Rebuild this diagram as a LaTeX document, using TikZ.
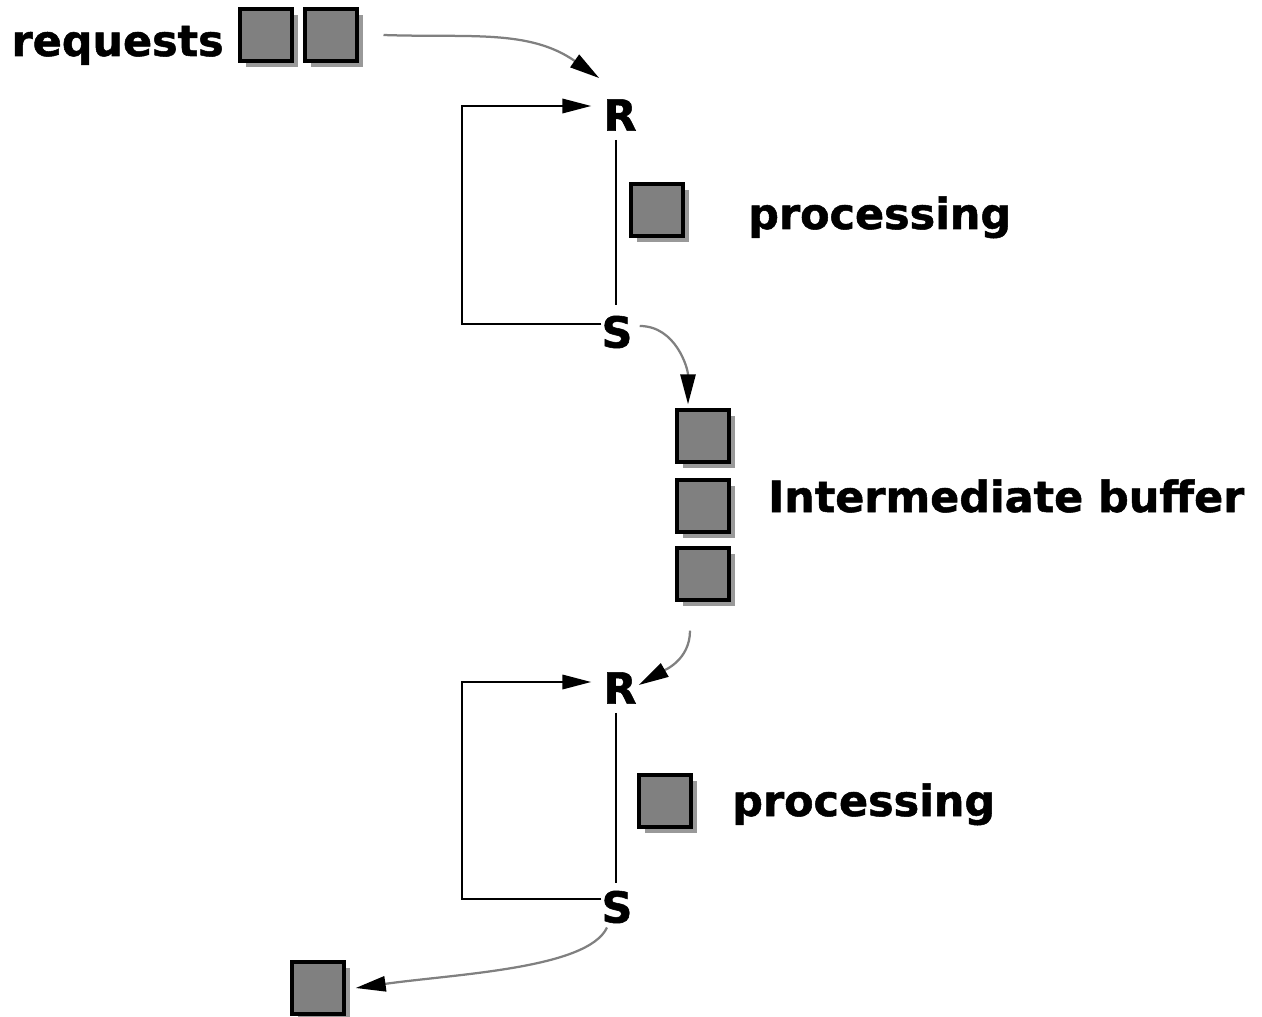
\documentclass[tikz,border=0pt]{standalone}
\usepackage{fontspec}
\setmainfont{DejaVu Sans}[BoldFeatures={FakeBold=1.2}]
\usetikzlibrary{arrows.meta,shadows}

\begin{document}
\begin{tikzpicture}[x=0.025cm,y=-0.025cm,
		job/.style={draw=black,line width=2.4pt,fill=black!50,minimum size=1.3cm,inner sep=0pt,
			drop shadow={shadow xshift=0.15cm,shadow yshift=-0.15cm,fill=black!40,opacity=1}},
		lbl/.style={font=\fontsize{30.5}{36}\selectfont\bfseries,inner sep=0pt},
		flow/.style={color=black!50,line width=1.6pt,-{Triangle[length=0.75cm,width=0.38cm,color=black]}},
		back/.style={line width=1.5pt,-{Triangle[length=0.72cm,width=0.36cm]}}]
		\useasboundingbox (0,0) rectangle (1262,1017);
		% first stage
		\node[lbl,anchor=base east] (reqtxt) at (224,56) {requests};
		\node[job] (q1) at (266,35) {};
		\node[job] (q2) at (331,35) {};
		\node[lbl] (r1) at (620,115) {R};
		\node[lbl] (s1) at (617,332) {S};
		\node[job] (p1) at (657,210) {};
		\node[lbl,anchor=base west] (ptxt1) at (748,229) {processing};
		\draw[flow] ([xshift=0.62cm]q2.east) to[out=-2,in=145] ([shift={(-4,-21)}]r1.north west);
		\draw[back] ([yshift=0.2cm]s1.west) -- ++(-139,0) |- ([shift={(-12,-9)}]r1.west);
		\draw[line width=1.5pt] ([shift={(-4,9)}]r1.south) -- ([shift={(-1,-10)}]s1.north);
		% buffer
		\node[job] (b1) at (703,436) {};
		\node[job] (b2) at (703,506) {};
		\node[job] (b3) at (703,574) {};
		\node[lbl,anchor=base west] (btxt) at (768,512) {Intermediate buffer};
		\draw[flow] ([shift={(7,-6)}]s1.east) to[out=0,in=90] ([shift={(-15,-4)}]b1.north);
		% second stage
		\node[lbl] (r2) at (620,688) {R};
		\node[lbl] (s2) at (617,907) {S};
		\node[job] (p2) at (665,801) {};
		\node[lbl,anchor=base west] (ptxt2) at (732,816) {processing};
		\node[job] (done) at (318,988) {};
		\draw[flow] ([shift={(-13,29)}]b3.south) to[out=-90,in=30] ([shift={(2,-3)}]r2.east);
		\draw[back] ([yshift=0.2cm]s2.west) -- ++(-139,0) |- ([shift={(-12,-6)}]r2.west);
		\draw[line width=1.5pt] ([shift={(-4,9)}]r2.south) -- ([shift={(-1,-8)}]s2.north);
		\draw[flow] ([shift={(-10,4)}]s2.south) to[out=-115,in=8,out looseness=0.45] ([xshift=0.25cm]done.east);
\end{tikzpicture}
\end{document}
